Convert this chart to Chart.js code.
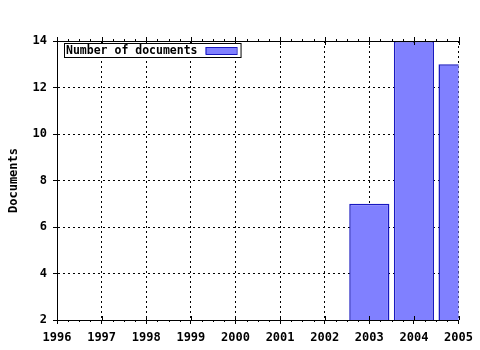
<!DOCTYPE html>
<html>
<head>
<meta charset="utf-8">
<script src="https://cdn.jsdelivr.net/npm/chart.js@4/dist/chart.umd.min.js"></script>
<style>
  html, body { margin: 0; padding: 0; background: #fff; }
  #wrap { width: 480px; height: 350px; }
</style>
</head>
<body>
<div id="wrap"><canvas id="docChart" width="480" height="350"></canvas></div>
<script>
// data
const years = [2003, 2004, 2005];
const documents = [7, 14, 13];
const yTicks = [2, 4, 6, 8, 10, 12, 14];
const xRange = [1996, 2005];
const seriesLabel = 'Number of documents';

const MONO = '"DejaVu Sans Mono", "Liberation Mono", monospace';

// top axis line + minor ticks, and the boxed legend inside the plot
const framePlugin = {
    id: 'frame',
    afterDatasetsDraw(chart) {
        const ctx = chart.ctx;
        const area = chart.chartArea;
        const xs = chart.scales.x;
        ctx.save();
        ctx.strokeStyle = '#000';
        ctx.lineWidth = 1;
        ctx.setLineDash([]);
        // top line
        ctx.beginPath();
        ctx.moveTo(area.left, Math.round(area.top) + 0.5);
        ctx.lineTo(area.right, Math.round(area.top) + 0.5);
        ctx.stroke();
        // ticks on top and bottom
        for (let v = xRange[0]; v <= xRange[1] + 0.001; v += 0.25) {
            const px = Math.round(xs.getPixelForValue(v)) + 0.5;
            const major = Math.abs(v - Math.round(v)) < 0.001;
            ctx.beginPath();
            if (major) {
                ctx.moveTo(px, area.top - 4);
                ctx.lineTo(px, area.top + 4);
                ctx.moveTo(px, area.bottom - 4);
                ctx.lineTo(px, area.bottom);
            } else {
                ctx.moveTo(px, area.top - 2);
                ctx.lineTo(px, area.top + 1);
                ctx.moveTo(px, area.bottom);
                ctx.lineTo(px, area.bottom + 2);
            }
            ctx.stroke();
        }
        ctx.restore();
    },
    afterDraw(chart) {
        const ctx = chart.ctx;
        const area = chart.chartArea;
        const ds = chart.data.datasets[0];
        ctx.save();
        ctx.font = 'bold 11.5px ' + MONO;
        ctx.textBaseline = 'middle';
        const x0 = area.left + 7, y0 = area.top + 2;
        const textW = ctx.measureText(ds.label).width;
        const w = textW + 45, h = 14;
        ctx.fillStyle = '#fff';
        ctx.fillRect(x0, y0, w, h);
        ctx.strokeStyle = '#000';
        ctx.lineWidth = 1;
        ctx.strokeRect(x0 + 0.5, y0 + 0.5, w, h);
        ctx.fillStyle = '#000';
        ctx.fillText(ds.label, x0 + 2, y0 + h / 2 + 1);
        // swatch
        ctx.fillStyle = ds.backgroundColor;
        ctx.fillRect(x0 + textW + 10, y0 + 4, 31, 7);
        ctx.strokeStyle = ds.borderColor;
        ctx.strokeRect(x0 + textW + 10.5, y0 + 4.5, 31, 7);
        ctx.restore();
    }
};

const ctx = document.getElementById('docChart').getContext('2d');

const tickFont = { family: MONO, size: 12, weight: 'bold' };
const gridOpts = {
    color: '#000',
    lineWidth: 1,
    offset: false,
    drawTicks: true,
    tickLength: 4,
    tickColor: '#000',
    tickBorderDash: []
};

new Chart(ctx, {
    type: 'bar',
    data: {
        datasets: [{
            label: seriesLabel,
            data: years.map((y, i) => ({ x: y, y: documents[i] })),
            backgroundColor: '#8080ff',
            borderColor: '#1818c0',
            borderWidth: 1.5,
            borderSkipped: false,
            barPercentage: 0.9,
            categoryPercentage: 1
        }]
    },
    options: {
        responsive: false,
        animation: false,
        devicePixelRatio: 1,
        layout: { padding: { top: 41, right: 21, left: 0, bottom: 0 } },
        plugins: {
            legend: { display: false },
            tooltip: { enabled: false }
        },
        scales: {
            x: {
                type: 'linear',
                min: xRange[0],
                max: xRange[1],
                offset: false,
                afterFit(scale) { scale.height = 30; },
                ticks: {
                    stepSize: 1,
                    color: '#000',
                    font: tickFont,
                    padding: 7,
                    maxRotation: 0,
                    callback: v => String(v)
                },
                grid: gridOpts,
                border: { display: true, color: '#000', width: 1, dash: [2, 3] }
            },
            y: {
                min: 2,
                max: 14,
                afterFit(scale) { scale.width = 57; },
                afterBuildTicks(scale) { scale.ticks = yTicks.map(v => ({ value: v })); },
                title: {
                    display: true,
                    text: 'Documents',
                    color: '#000',
                    font: tickFont,
                    padding: { top: 7, bottom: 0 }
                },
                ticks: {
                    color: '#000',
                    font: tickFont,
                    padding: 6
                },
                grid: gridOpts,
                border: { display: true, color: '#000', width: 1, dash: [2, 3] }
            }
        }
    },
    plugins: [framePlugin]
});
</script>
</body>
</html>
